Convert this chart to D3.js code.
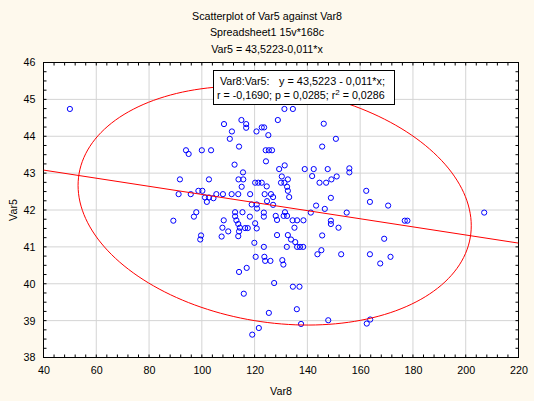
<!DOCTYPE html>
<html>
<head>
<meta charset="utf-8">
<script src="https://cdn.jsdelivr.net/npm/d3@7"></script>
<style>
body { margin: 0; background: #fef9ed; overflow: hidden; }
text { font-family: Arial, "Liberation Sans", sans-serif; font-size: 10.7px; fill: #000; }
</style>
</head>
<body>
<div id="chart"></div>
<script>
// Var8 (x) and Var5 (y)
var var8 = [
	50.0, 94.0, 95.0, 131.3, 134.5, 108.4, 115.0, 116.8, 116.8, 122.7,
	123.6, 128.8, 146.2, 111.4, 120.7, 110.6, 125.2, 150.8, 114.1, 100.0,
	103.5, 124.2, 125.4, 126.6, 145.6, 112.4, 124.3, 131.4, 129.3, 115.6,
	102.7, 113.9, 115.7, 120.2, 121.4, 122.7, 130.3, 132.6, 130.0, 131.3,
	124.6, 115.1, 98.7, 100.2, 105.5, 108.0, 111.3, 113.8, 118.3, 123.8,
	126.2, 127.0, 132.3, 132.6, 101.2, 102.7, 104.4, 101.9, 118.9, 120.8,
	120.9, 124.7, 127.0, 133.1, 97.9, 112.6, 115.4, 112.6, 118.2, 123.5,
	123.5, 128.0, 131.5, 131.0, 132.3, 108.3, 113.1, 113.8, 120.2, 128.5,
	107.8, 107.5, 110.0, 114.4, 116.4, 117.4, 114.1, 120.8, 135.1, 113.8,
	99.7, 99.4, 128.5, 132.6, 133.8, 119.9, 123.5, 132.2, 120.4, 123.7,
	124.0, 126.0, 130.5, 134.4, 136.1, 138.5, 135.4, 136.1, 137.2, 138.4,
	141.8, 144.6, 147.1, 149.1, 151.1, 139.0, 142.4, 147.7, 155.9, 155.9,
	162.3, 148.9, 163.7, 170.6, 143.3, 146.6, 141.3, 154.9, 148.9, 148.9,
	151.8, 145.6, 169.1, 145.3, 143.8, 152.8, 163.7, 171.5, 167.6, 91.7,
	91.2, 95.8, 97.0, 89.2, 117.0, 114.1, 115.9, 125.4, 121.6, 119.1,
	130.9, 127.4, 134.5, 137.0, 136.0, 137.6, 147.9, 162.5, 163.8, 176.9,
	177.9, 207.0
];
var var5 = [
	44.74, 43.62, 43.52, 44.74, 44.74, 44.33, 44.44, 44.33, 44.23, 44.24,
	44.24, 44.44, 44.34, 44.13, 44.13, 43.93, 44.03, 43.93, 43.72, 43.62,
	43.62, 43.62, 43.62, 43.62, 43.72, 43.23, 43.32, 43.21, 43.11, 43.02,
	42.83, 42.83, 42.83, 42.74, 42.74, 42.74, 42.91, 42.83, 42.74, 42.74,
	42.64, 42.63, 42.52, 42.52, 42.43, 42.43, 42.43, 42.43, 42.43, 42.43,
	42.43, 42.35, 42.63, 42.52, 42.34, 42.34, 42.32, 42.22, 42.15, 42.15,
	42.04, 42.24, 42.14, 42.35, 41.94, 41.94, 41.94, 41.83, 41.82, 41.93,
	41.82, 41.84, 41.94, 41.84, 41.84, 41.72, 41.72, 41.62, 41.64, 41.73,
	41.52, 41.28, 41.42, 41.52, 41.51, 41.51, 41.42, 41.50, 41.52, 41.29,
	41.31, 41.20, 41.32, 41.32, 41.20, 41.11, 41.00, 41.00, 40.73, 40.73,
	40.62, 40.62, 40.64, 41.72, 41.72, 41.72, 41.13, 41.00, 41.00, 41.00,
	42.92, 42.74, 42.74, 42.83, 42.91, 43.11, 43.11, 43.11, 43.13, 43.02,
	42.52, 42.33, 42.22, 42.12, 42.12, 42.03, 41.93, 41.93, 41.71, 41.62,
	41.52, 41.31, 41.22, 40.91, 40.80, 40.80, 40.80, 40.73, 40.55, 42.83,
	42.43, 42.43, 41.82, 41.71, 40.43, 40.32, 39.73, 39.21, 38.80, 38.62,
	40.52, 40.02, 39.92, 39.92, 39.31, 38.91, 39.01, 38.92, 39.03, 41.71,
	41.71, 41.93
];

var xTicks = [40, 60, 80, 100, 120, 140, 160, 180, 200, 220];
var yTicks = [38, 39, 40, 41, 42, 43, 44, 45, 46];

var titleLines = ["Scatterplot of Var5 against Var8", "Spreadsheet1 15v*168c", "Var5 = 43,5223-0,011*x"];

// regression and correlation as printed in the chart
var fitIntercept = 43.5223;
var fitSlope = -0.011;
var fitR = -0.1690;

// 0.95 ellipse: centre and half extents in data units
var ellipseCenter = [127.6, 42.12];
var ellipseHalf = [74.5, 3.24];

var width = 534;
var height = 401;

var svg = d3.select("#chart").append("svg")
	.attr("width", width)
	.attr("height", height);

var x = d3.scaleLinear().domain([40, 220]).range([43.5, 518.5]);
var y = d3.scaleLinear().domain([38, 46]).range([357.5, 62.5]);

// plot background
svg.append("rect")
	.attr("x", x(40))
	.attr("y", y(46))
	.attr("width", x(220) - x(40))
	.attr("height", y(38) - y(46))
	.attr("fill", "white");

// grid
svg.selectAll(".gridx")
	.data(xTicks.slice(1, -1))
	.enter()
	.append("line")
	.attr("x1", function(d) { return x(d); })
	.attr("x2", function(d) { return x(d); })
	.attr("y1", y(46))
	.attr("y2", y(38))
	.attr("stroke", "#d4d4d4");

svg.selectAll(".gridy")
	.data(yTicks.slice(1, -1))
	.enter()
	.append("line")
	.attr("x1", x(40))
	.attr("x2", x(220))
	.attr("y1", function(d) { return y(d); })
	.attr("y2", function(d) { return y(d); })
	.attr("stroke", "#d4d4d4");

// minor ticks, inward on all four sides
var xMinor = d3.range(40, 220.1, 4);
var yMinor = d3.range(38, 46.01, 0.25);
var tickLen = 3;

svg.selectAll(".tb")
	.data(xMinor)
	.enter()
	.append("line")
	.attr("x1", function(d) { return x(d); })
	.attr("x2", function(d) { return x(d); })
	.attr("y1", y(38))
	.attr("y2", y(38) - tickLen)
	.attr("stroke", "black");

svg.selectAll(".tt")
	.data(xMinor)
	.enter()
	.append("line")
	.attr("x1", function(d) { return x(d); })
	.attr("x2", function(d) { return x(d); })
	.attr("y1", y(46))
	.attr("y2", y(46) + tickLen)
	.attr("stroke", "black");

svg.selectAll(".tl")
	.data(yMinor)
	.enter()
	.append("line")
	.attr("x1", x(40))
	.attr("x2", x(40) + tickLen)
	.attr("y1", function(d) { return y(d); })
	.attr("y2", function(d) { return y(d); })
	.attr("stroke", "black");

svg.selectAll(".tr")
	.data(yMinor)
	.enter()
	.append("line")
	.attr("x1", x(220))
	.attr("x2", x(220) - tickLen)
	.attr("y1", function(d) { return y(d); })
	.attr("y2", function(d) { return y(d); })
	.attr("stroke", "black");

// axis labels through d3 axes
var xAxis = svg.append("g")
	.attr("transform", "translate(0," + y(38) + ")")
	.call(d3.axisBottom(x).tickValues(xTicks).tickSize(0).tickPadding(9).tickFormat(d3.format("d")));
xAxis.select(".domain").remove();

var yAxis = svg.append("g")
	.attr("transform", "translate(" + x(40) + ",0)")
	.call(d3.axisLeft(y).tickValues(yTicks).tickSize(0).tickPadding(8).tickFormat(d3.format("d")));
yAxis.select(".domain").remove();

svg.selectAll(".tick text")
	.attr("font-family", null)
	.attr("font-size", null)
	.attr("fill", null);

// frame
svg.append("rect")
	.attr("x", x(40))
	.attr("y", y(46))
	.attr("width", x(220) - x(40))
	.attr("height", y(38) - y(46))
	.attr("fill", "none")
	.attr("stroke", "black");

svg.append("text")
	.attr("x", (x(40) + x(220)) / 2)
	.attr("y", 394.5)
	.attr("text-anchor", "middle")
	.text("Var8");

svg.append("text")
	.attr("transform", "translate(17," + ((y(38) + y(46)) / 2) + ") rotate(-90)")
	.attr("text-anchor", "middle")
	.text("Var5");

// titles
svg.selectAll(".title")
	.data(titleLines)
	.enter()
	.append("text")
	.attr("x", width / 2)
	.attr("y", function(d, i) { return 20 + i * 16.3; })
	.attr("text-anchor", "middle")
	.text(function(d) { return d; });

// clip for the fit line
svg.append("clipPath")
	.attr("id", "plotclip")
	.append("rect")
	.attr("x", x(40))
	.attr("y", y(46))
	.attr("width", x(220) - x(40))
	.attr("height", y(38) - y(46));

var plot = svg.append("g").attr("clip-path", "url(#plotclip)");

// points
plot.selectAll("circle")
	.data(var8)
	.enter()
	.append("circle")
	.attr("cx", function(d) { return x(d); })
	.attr("cy", function(d, i) { return y(var5[i]); })
	.attr("r", 2.6)
	.attr("fill", "none")
	.attr("stroke", "#0000ff")
	.attr("stroke-width", 1);

// regression line
plot.append("line")
	.attr("x1", x(40))
	.attr("x2", x(220))
	.attr("y1", y(fitIntercept + fitSlope * 40))
	.attr("y2", y(fitIntercept + fitSlope * 220))
	.attr("stroke", "#ff0000")
	.attr("stroke-width", 1);

// ellipse from centre, half extents and r
var phi = Math.acos(fitR);
var ellipsePts = d3.range(0, 360, 2).map(function(a) {
	var t = a * Math.PI / 180;
	return [ellipseCenter[0] + ellipseHalf[0] * Math.cos(t),
		ellipseCenter[1] + ellipseHalf[1] * Math.cos(t - phi)];
});

plot.append("path")
	.attr("d", d3.line()
		.x(function(d) { return x(d[0]); })
		.y(function(d) { return y(d[1]); })
		.curve(d3.curveLinearClosed)(ellipsePts))
	.attr("fill", "none")
	.attr("stroke", "#ff0000")
	.attr("stroke-width", 1);

// stats box
var box = svg.append("g");
box.append("rect")
	.attr("x", 213.5)
	.attr("y", 70.5)
	.attr("width", 181)
	.attr("height", 34)
	.attr("fill", "white")
	.attr("stroke", "black");

box.append("text")
	.attr("x", 220)
	.attr("y", 84.5)
	.text("Var8:Var5:");

box.append("text")
	.attr("x", 279)
	.attr("y", 84.5)
	.attr("textLength", 106)
	.attr("lengthAdjust", "spacingAndGlyphs")
	.text("y = 43,5223 - 0,011*x;");

var line2 = box.append("text")
	.attr("x", 217)
	.attr("y", 99);
line2.append("tspan").text("r = -0,1690; p = 0,0285; r");
line2.append("tspan").attr("dy", -4).attr("font-size", "8px").text("2");
line2.append("tspan").attr("dy", 4).text(" = 0,0286");
</script>
</body>
</html>
